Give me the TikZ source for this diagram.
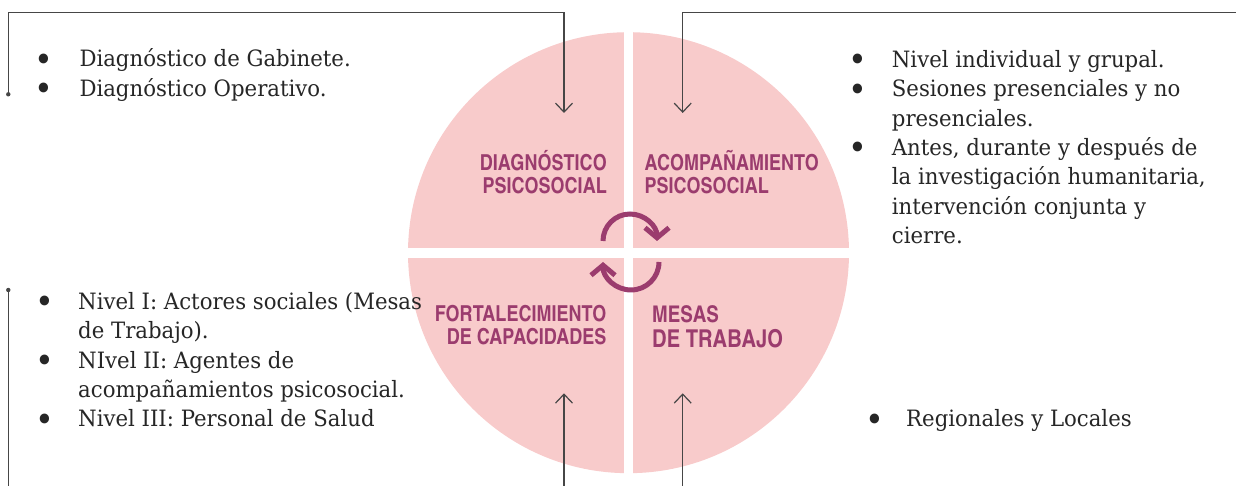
\documentclass[tikz,border=0pt]{standalone}
\usepackage{fontspec}
\setmainfont{DejaVu Serif}[FakeStretch=0.944]
\newfontfamily\labfont{texgyreheroscn-bold.otf}
\usetikzlibrary{arrows.meta}
\definecolor{pinkc}{RGB}{248,203,203}
\definecolor{purp}{RGB}{155,60,110}
\definecolor{txt}{RGB}{38,38,38}
\definecolor{linec}{RGB}{70,70,70}
\newcommand{\bul}{\makebox[0pt]{\smash{\raisebox{-4.5pt}{\scalebox{1.5}{\textbullet}}}}}
\tikzset{
  conn/.style={draw=linec, line width=1.2pt},
  tipbarb/.style={-{Straight Barb[length=9pt,width=17pt]}},
  lab/.style={inner sep=0pt, text=purp, font=\labfont\fontsize{22}{23.2}\selectfont},
  body/.style={inner sep=0pt, text=txt, font=\fontsize{22.5}{29.4}\selectfont},
  cyc/.style={draw=purp, line width=5pt, -{Straight Barb[length=10pt,width=24pt]}},
  dotend/.style={fill=linec},
}
\begin{document}
\begin{tikzpicture}[x=1pt,y=1pt]
\useasboundingbox (0,0) rectangle (1236,486);
% circle with quadrant gaps
\fill[pinkc] (628.5,233.3) circle (220.5);
\fill[white] (624,5) rectangle (632.7,481);
\fill[white] (400,227.7) rectangle (860,238.3);
% cycle arrows
\draw[cyc] (603,245) arc[start angle=180, end angle=0, radius=27];
\draw[cyc] (659,224) arc[start angle=0, end angle=-180, radius=28];
% labels
\node[lab, anchor=base east] (diag) at (607,315.3) {\begin{tabular}[t]{@{}r@{}}DIAGNÓSTICO\\PSICOSOCIAL\end{tabular}};
\node[lab, anchor=base west] (acomp) at (644.3,315.3) {\begin{tabular}[t]{@{}l@{}}ACOMPAÑAMIENTO\\PSICOSOCIAL\end{tabular}};
\node[lab, anchor=base east] (fort) at (606.7,164.3) {\begin{tabular}[t]{@{}r@{}}FORTALECIMIENTO\\DE CAPACIDADES\end{tabular}};
\node[lab, anchor=base west, font=\labfont\fontsize{23}{24}\selectfont] (mesas) at (652,163) {MESAS};
\node[lab, anchor=base west, font=\labfont\fontsize{24.6}{26}\selectfont] (trabajo) at (652,138) {DE TRABAJO};
% bullet lists
\node[body, anchor=base west] (tl) at (44,419.3) {\begin{tabular}[t]{@{}l@{\hspace{35.3pt}}l@{}}
\bul & Diagnóstico de Gabinete.\\
\bul & Diagnóstico Operativo.
\end{tabular}};
\node[body, anchor=base west] (tr) at (858,418.7) {\begin{tabular}[t]{@{}l@{\hspace{33.7pt}}l@{}}
\bul & Nivel individual y grupal.\\
\bul & Sesiones presenciales y no\\
 & presenciales.\\
\bul & Antes, durante y después de\\
 & la investigación humanitaria,\\
 & intervención conjunta y\\
 & cierre.
\end{tabular}};
\node[body, anchor=base west] (bl) at (45,176.7) {\begin{tabular}[t]{@{}l@{\hspace{33pt}}l@{}}
\bul & Nivel I: Actores sociales (Mesas\\
 & de Trabajo).\\
\bul & NIvel II: Agentes de\\
 & acompañamientos psicosocial.\\
\bul & Nivel III: Personal de Salud
\end{tabular}};
\node[body, anchor=base west] (br) at (875,59.3) {\begin{tabular}[t]{@{}l@{\hspace{31pt}}l@{}}
\bul & Regionales y Locales
\end{tabular}};
% connectors
\coordinate (tlstart) at (8.3,391.7);
\coordinate (tlcorner) at (8.3,473.3);
\coordinate (tltop) at (564,473.3);
\coordinate (tlend) at (564,373);
\coordinate (trstart) at (1236,473.3);
\coordinate (trtop) at (682.7,473.3);
\coordinate (trend) at (682.7,373);
\coordinate (blstart) at (8.3,196);
\coordinate (blend) at (8.3,0);
\coordinate (b1start) at (564,0);
\coordinate (b1end) at (564,92.7);
\coordinate (b2start) at (682.7,0);
\coordinate (b2end) at (682.7,92.7);
\draw[conn, tipbarb] (tlstart) -- (tlcorner) -- (tltop) -- (tlend);
\fill[dotend] (tlstart) circle (2.2);
\draw[conn, tipbarb] (trstart) -- (trtop) -- (trend);
\draw[conn] (blstart) -- (blend);
\fill[dotend] (blstart) circle (2.2);
\draw[conn, tipbarb] (b1start) -- (b1end);
\draw[conn, tipbarb] (b2start) -- (b2end);
\end{tikzpicture}
\end{document}
